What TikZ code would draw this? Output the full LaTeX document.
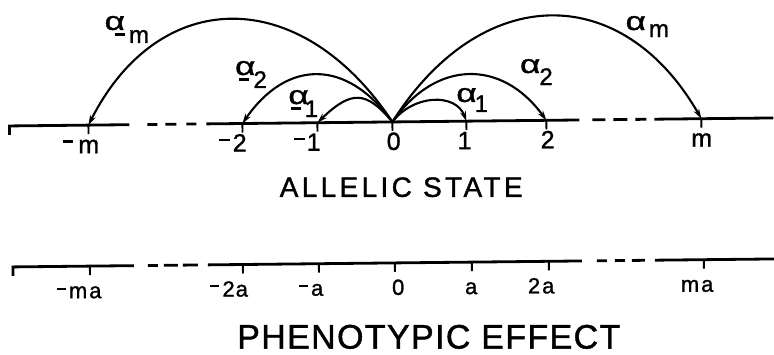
\documentclass[tikz,border=0pt]{standalone}
\usepackage{fontspec}
\usepackage{graphicx}
\setmainfont[FakeBold=1.2]{Liberation Sans}
\usetikzlibrary{arrows.meta}
\newcommand\mn[1]{\rule[#1]{0.42em}{0.1em}}
\newcommand\alp{\scalebox{1.35}[1]{\fontsize{26}{30}\selectfont α}}
% positive subscript: #1 kern, #2 lowering, #3 text
\newcommand\asub[3]{\alp\kern#1\raisebox{-#2}{#3}}
% negative subscript: minus tucked under alpha
\newcommand\asubn[3]{\alp\kern#1\raisebox{-#2}{\mn{0.3em}\kern4pt #3}}
\begin{document}
\begin{tikzpicture}[x=1pt,y=-1pt,
  axis/.style={line width=2.8pt},
  tickmark/.style={line width=1.9pt},
  arc/.style={line width=2.1pt,-{Stealth[length=10pt,width=6pt]}},
  toplab/.style={anchor=base,inner sep=0pt,font=\fontsize{25}{30}\selectfont},
  botlab/.style={anchor=base,inner sep=0pt,font=\fontsize{22}{26}\selectfont},
  alab/.style={anchor=base west,inner sep=0pt,font=\fontsize{24}{28}\selectfont},
  title/.style={anchor=base,inner sep=0pt},
]
\useasboundingbox (0,0) rectangle (774,355);
\begin{scope}[rotate around={0.6:(387,180)}]
% ---------- top axis (allelic state)
\coordinate (tnm) at (89,122);
\coordinate (tn2) at (243,122);
\coordinate (tn1) at (318,122);
\coordinate (t0)  at (393,122);
\coordinate (tp1) at (467,122);
\coordinate (tp2) at (547,122);
\coordinate (tpm) at (702,122);
\draw[axis] (10,131) -- (10,122) -- (130,122);
\draw[axis] (148,122) -- (158,122) (166,122) -- (177,122) (187,122) -- (197,122);
\draw[axis] (207,122) -- (580,122);
\draw[axis] (593,122) -- (606,122) (614,122) -- (628,122) (636,122) -- (647,122);
\draw[axis] (655,122) -- (774,122);
\foreach \t in {tnm,tn2,tn1,t0,tp1,tp2,tpm}
  \draw[tickmark] (\t) -- ++(0,9);
% arcs
\draw[arc] (t0) .. controls +(22,-28) and +(-10,-28) .. (tp1);
\draw[arc] (t0) .. controls +(44,-62) and +(-44,-62) .. (tp2);
\draw[arc] (t0) .. controls +(90,-139) and +(-78,-139) .. (tpm);
\draw[arc] (t0) .. controls +(-26,-32) and +(34,-32) .. (tn1);
\draw[arc] (t0) .. controls +(-45,-64) and +(45,-64) .. (tn2);
\draw[arc] (t0) .. controls +(-90,-139) and +(72,-139) .. (tnm);
% labels
\node[toplab] (lnm) at (89,150) {\llap{\mn{0.42em}\kern5pt}m};
\node[toplab] (ln2) at (240,150) {\llap{\mn{0.42em}\kern3pt}2};
\node[toplab] (ln1) at (314,150) {\llap{\mn{0.42em}\kern2pt}1};
\node[toplab] (l0)  at (394,150) {0};
\node[toplab] (lp1) at (465,150) {1};
\node[toplab] (lp2) at (548,150) {2};
\node[toplab] (lpm) at (702,150) {m};
% rate labels
\node[alab] (anm) at (106,27)    {\asubn{-10pt}{13pt}{m}};
\node[alab] (an2) at (236,73.4)  {\asubn{-16pt}{13pt}{2}};
\node[alab] (an1) at (289,103)   {\asubn{-18pt}{13pt}{1}};
\node[alab] (ap1) at (457,102.7) {\asub{-2pt}{10pt}{1}};
\node[alab] (ap2) at (521,74.4)  {\asub{-1pt}{12pt}{2}};
\node[alab] (apm) at (627,32.5)  {\asub{3pt}{7pt}{m}};
\node[title,font=\fontsize{28}{32}\selectfont\addfontfeature{LetterSpace=12}] (as) at (401,197) {ALLELIC STATE};
% ---------- bottom axis (phenotypic effect)
\coordinate (bnm) at (89,263);
\coordinate (bn2) at (242,263);
\coordinate (bn1) at (318,263);
\coordinate (b0)  at (394,263);
\coordinate (bp1) at (471,263);
\coordinate (bp2) at (548,263);
\coordinate (bpm) at (703,263);
\draw[axis] (12,272) -- (12,263) -- (133,263);
\draw[axis] (147,263) -- (157,263) (163,263) -- (177,263) (182,263) -- (197,263);
\draw[axis] (207,263) -- (581,263);
\draw[axis] (596,263) -- (606,263) (614,263) -- (624,263) (631,263) -- (644,263);
\draw[axis] (654,263) -- (774,263);
\foreach \t in {bnm,bn2,bn1,b0,bp1,bp2,bpm}
  \draw[tickmark] (\t) -- ++(0,9);
\node[botlab] (mnm) at (84,295)  {\llap{\mn{0.38em}\kern3pt}m\kern2pt a};
\node[botlab] (mn2) at (234,295) {\llap{\mn{0.42em}\kern3pt}2\kern1pt a};
\node[botlab] (mn1) at (316,295) {\llap{\mn{0.38em}\kern3pt}a};
\node[botlab] (m0)  at (397,295) {0};
\node[botlab] (mp1) at (470,295) {a};
\node[botlab] (mp2) at (540,295) {2\kern2pt a};
\node[botlab] (mpm) at (696,295) {m\kern2pt a};
\node[title,font=\fontsize{34}{38}\selectfont\addfontfeature{LetterSpace=4}] (pe) at (427,349) {PHENOTYPIC EFFECT};
\end{scope}
\end{tikzpicture}
\end{document}
